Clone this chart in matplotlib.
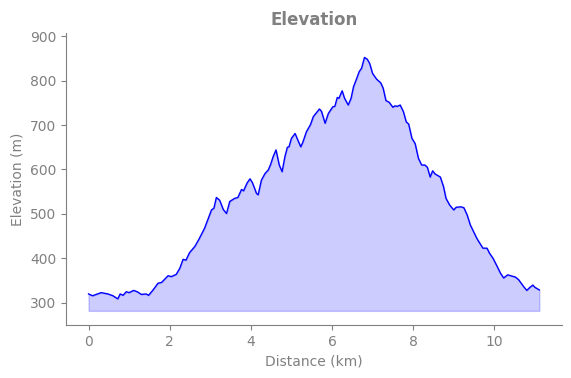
import matplotlib
matplotlib.use('Agg')
import matplotlib.pyplot as plt
import numpy as np

# distance (km) and elevation (m)
dist = [0.0, 0.1, 0.31, 0.48, 0.6, 0.72, 0.78, 0.85, 0.93, 1.0, 1.11, 1.2, 1.3, 1.42, 1.48,
        1.59, 1.71, 1.8, 1.96, 2.04, 2.16, 2.25, 2.33, 2.4, 2.49, 2.62, 2.72, 2.86, 3.03, 3.09,
        3.15, 3.23, 3.32, 3.40, 3.48, 3.6, 3.68, 3.77, 3.82, 3.91, 3.98, 4.04, 4.14, 4.18, 4.26,
        4.35, 4.43, 4.49, 4.55, 4.62, 4.70, 4.77, 4.84, 4.90, 4.94, 5.0, 5.09, 5.14, 5.23, 5.28,
        5.37, 5.47, 5.54, 5.69, 5.74, 5.83, 5.91, 6.02, 6.07, 6.13, 6.17, 6.25, 6.31, 6.40, 6.47,
        6.53, 6.61, 6.67, 6.73, 6.80, 6.87, 6.93, 7.0, 7.10, 7.20, 7.26, 7.33, 7.41, 7.50, 7.55,
        7.61, 7.68, 7.76, 7.83, 7.89, 7.97, 8.05, 8.13, 8.21, 8.29, 8.35, 8.42, 8.48, 8.54, 8.67,
        8.75, 8.81, 8.90, 9.0, 9.06, 9.18, 9.25, 9.33, 9.41, 9.49, 9.57, 9.65, 9.72, 9.82, 9.88,
        9.97, 10.07, 10.15, 10.23, 10.33, 10.41, 10.52, 10.6, 10.72, 10.80, 10.88, 10.95, 11.0, 11.11]
elev = [320, 316, 323, 320, 316, 309, 320, 317, 325, 323, 328, 325, 319, 320, 317,
        329, 344, 346, 361, 359, 364, 378, 398, 396, 413, 427, 443, 468, 509, 513,
        537, 531, 510, 501, 528, 535, 537, 555, 552, 570, 579, 570, 546, 543, 576,
        591, 599, 612, 629, 644, 610, 595, 629, 650, 651, 670, 681, 670, 651, 661,
        685, 701, 719, 736, 731, 704, 726, 741, 742, 762, 760, 777, 760, 745, 760,
        786, 805, 820, 828, 852, 848, 838, 816, 803, 795, 783, 755, 751, 740, 743,
        742, 745, 730, 707, 702, 670, 658, 625, 610, 610, 605, 583, 597, 590, 583,
        561, 535, 520, 509, 515, 516, 514, 498, 475, 460, 445, 433, 423, 423, 412,
        400, 382, 367, 356, 363, 361, 358, 352, 337, 328, 335, 340, 335, 329]
base = 282

grey = '#808080'
fig = plt.figure(figsize=(5.71, 3.78), dpi=100)
ax = fig.add_axes([0.1156, 0.14, 0.8684, 0.7727])
ax.plot(dist, elev, color='blue', lw=1)
ax.fill_between(dist, elev, base, color='blue', alpha=0.2)
ax.set_ylim(250, 907)
ax.set_yticks([300, 400, 500, 600, 700, 800, 900])
ax.set_xticks([0, 2, 4, 6, 8, 10])
ax.set_title('Elevation', color=grey, fontweight='bold', fontsize=12)
ax.set_xlabel('Distance (km)', color=grey)
ax.set_ylabel('Elevation (m)', color=grey)
ax.spines['top'].set_visible(False)
ax.spines['right'].set_visible(False)
for s in ['left', 'bottom']:
    ax.spines[s].set_color(grey)
ax.tick_params(colors=grey)
fig.savefig('out.png', dpi=100)
